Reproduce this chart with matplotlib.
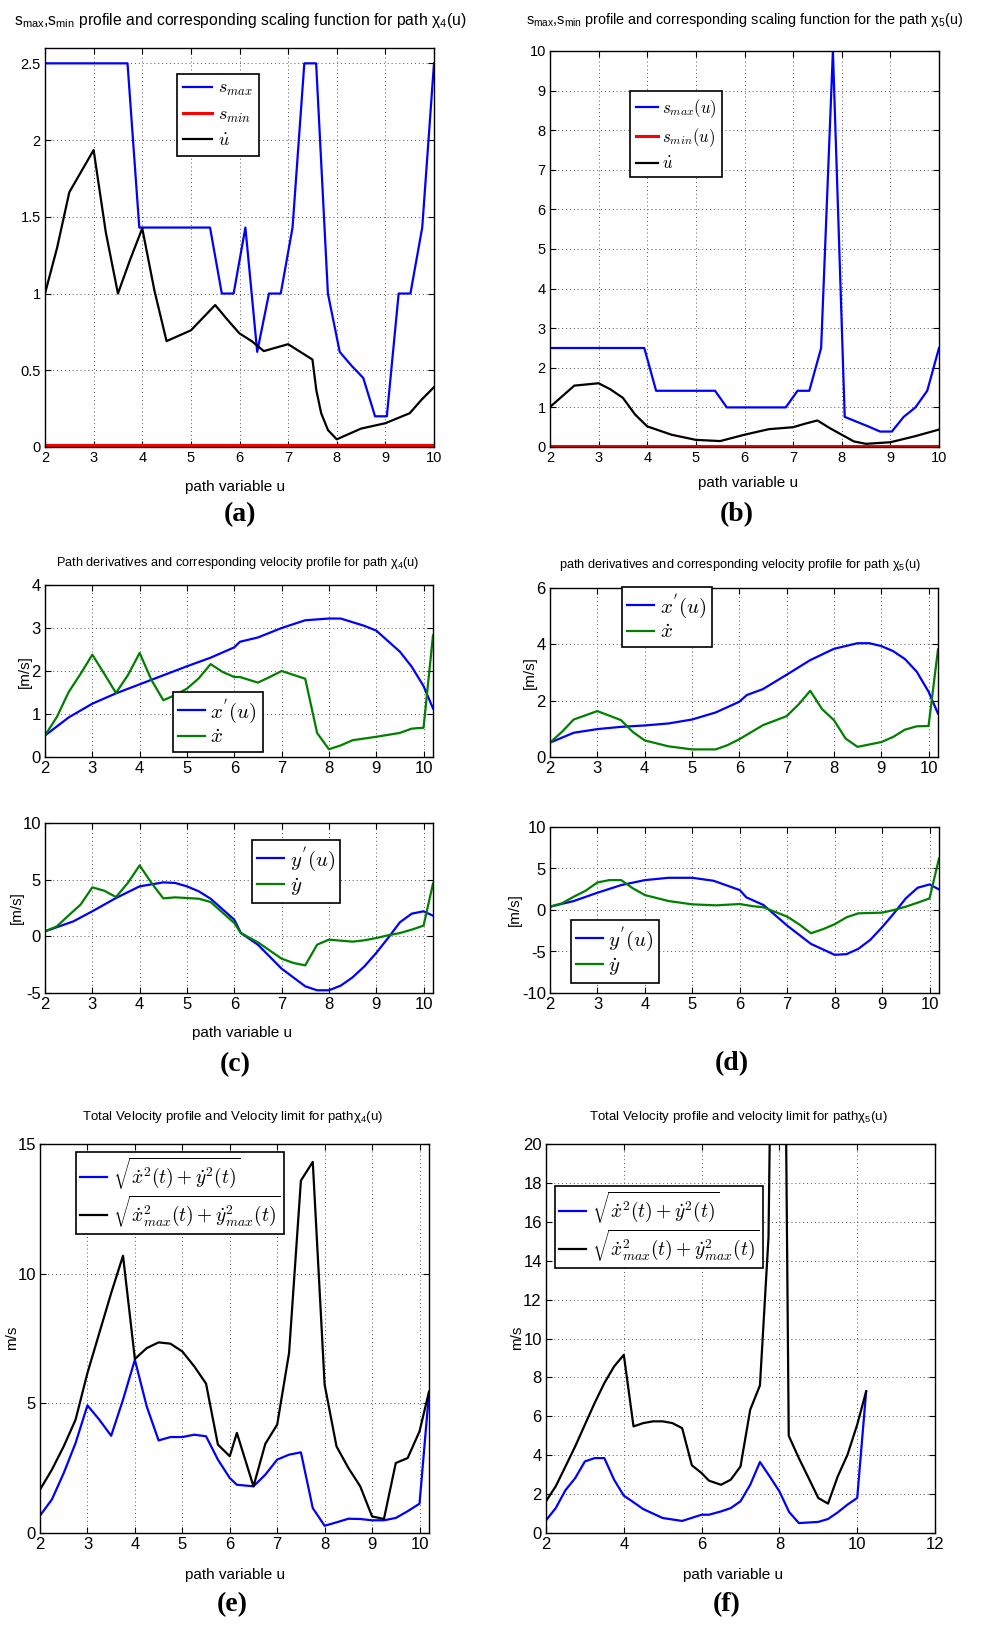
import matplotlib
matplotlib.use('Agg')
import matplotlib.pyplot as plt
from matplotlib.ticker import FuncFormatter

plt.rcParams['font.family'] = ['Liberation Sans', 'DejaVu Sans']
plt.rcParams['mathtext.fontset'] = 'cm'

W, H = 984, 1644

BLUE = '#0000ff'
RED = '#ff0000'
GREEN = '#007f00'

# ---- (a) s_max / s_min / u-dot, path chi_4 ----
a_smax_u = [2.0, 3.697, 3.939, 5.394, 5.636, 5.879, 6.121, 6.364, 6.606, 6.848, 7.091, 7.333,
            7.576, 7.818, 8.061, 8.303, 8.545, 8.788, 9.030, 9.273, 9.515, 9.758, 10.0]
a_smax = [2.5, 2.5, 1.43, 1.43, 1.0, 1.0, 1.43, 0.62, 1.0, 1.0, 1.43, 2.5,
          2.5, 1.0, 0.62, 0.53, 0.45, 0.2, 0.2, 1.0, 1.0, 1.43, 2.5]
a_smin_u = [2.0, 10.0]
a_smin = [0.01, 0.01]
a_udot_u = [2.0, 2.25, 2.5, 3.0, 3.25, 3.5, 3.75, 4.0, 4.25, 4.5, 5.0, 5.5, 5.75, 6.0,
            6.25, 6.5, 7.0, 7.5, 7.58, 7.68, 7.82, 8.0, 8.5, 9.0, 9.5, 9.75, 10.0]
a_udot = [1.0, 1.3, 1.66, 1.935, 1.40, 1.0, 1.22, 1.425, 1.02, 0.69, 0.76, 0.925, 0.83, 0.74,
          0.69, 0.625, 0.67, 0.57, 0.37, 0.22, 0.11, 0.05, 0.12, 0.155, 0.22, 0.31, 0.39]

# ---- (b) s_max / s_min / u-dot, path chi_5 ----
b_smax_u = [2.0, 3.939, 4.182, 5.394, 5.636, 6.848, 7.091, 7.333, 7.576, 7.818, 8.061, 8.303,
            8.545, 8.788, 9.030, 9.273, 9.515, 9.758, 10.0]
b_smax = [2.5, 2.5, 1.42, 1.42, 1.0, 1.0, 1.42, 1.42, 2.5, 10.0, 0.76, 0.64,
          0.52, 0.39, 0.39, 0.76, 1.0, 1.42, 2.5]
b_smin_u = [2.0, 10.0]
b_smin = [0.02, 0.02]
b_udot_u = [2.0, 2.25, 2.5, 3.0, 3.25, 3.5, 3.75, 4.0, 4.5, 5.0, 5.5, 6.0, 6.5, 7.0,
            7.25, 7.5, 7.75, 8.0, 8.25, 8.5, 9.0, 9.5, 10.0]
b_udot = [1.01, 1.28, 1.55, 1.61, 1.45, 1.24, 0.82, 0.52, 0.31, 0.18, 0.15, 0.31, 0.45, 0.5,
          0.59, 0.67, 0.48, 0.31, 0.14, 0.08, 0.12, 0.27, 0.44]

# ---- (c) derivatives, path chi_4 ----
c_xp_u = [2.0, 2.5, 3.0, 3.5, 4.0, 4.5, 5.0, 5.5, 6.0, 6.12, 6.5, 7.0, 7.5, 8.0, 8.25,
          8.75, 9.0, 9.5, 9.75, 10.0, 10.2]
c_xp = [0.5, 0.92, 1.24, 1.48, 1.69, 1.9, 2.11, 2.31, 2.55, 2.68, 2.78, 3.0, 3.18, 3.22, 3.22,
        3.05, 2.94, 2.45, 2.1, 1.65, 1.13]
c_xd_u = [2.0, 2.25, 2.5, 2.75, 3.0, 3.25, 3.5, 3.75, 4.0, 4.25, 4.5, 4.75, 5.0, 5.25, 5.5,
          5.75, 6.0, 6.12, 6.5, 6.75, 7.0, 7.5, 7.75, 8.0, 8.25, 8.5, 9.0, 9.5, 9.75, 10.0, 10.2]
c_xd = [0.5, 0.93, 1.51, 1.93, 2.38, 1.94, 1.49, 1.9, 2.42, 1.79, 1.32, 1.44, 1.59, 1.83, 2.16,
        1.98, 1.86, 1.86, 1.73, 1.86, 2.0, 1.82, 0.56, 0.18, 0.27, 0.39, 0.47, 0.56, 0.66, 0.68, 2.83]
c_yp_u = [2.0, 2.6, 3.0, 3.5, 4.0, 4.5, 4.75, 5.0, 5.25, 5.5, 6.0, 6.14, 6.5, 7.0, 7.5,
          7.75, 8.0, 8.25, 8.5, 8.75, 9.0, 9.25, 9.5, 9.75, 10.0, 10.2]
c_yp = [0.44, 1.32, 2.21, 3.38, 4.41, 4.76, 4.71, 4.41, 3.97, 3.32, 1.47, 0.29, -0.74, -2.85, -4.41,
        -4.76, -4.76, -4.35, -3.62, -2.65, -1.47, -0.15, 1.24, 2.0, 2.21, 1.82]
c_yd_u = [2.0, 2.25, 2.5, 2.75, 3.0, 3.25, 3.5, 3.75, 4.0, 4.25, 4.5, 4.75, 5.25, 5.5, 6.0,
          6.14, 6.5, 7.0, 7.25, 7.5, 7.75, 8.0, 8.5, 8.75, 9.0, 9.25, 9.5, 9.75, 10.0, 10.2]
c_yd = [0.44, 0.88, 1.85, 2.79, 4.32, 4.03, 3.47, 4.71, 6.26, 4.71, 3.35, 3.44, 3.32, 3.03, 1.18,
        0.29, -0.53, -1.97, -2.35, -2.56, -0.74, -0.29, -0.47, -0.35, -0.15, 0.09, 0.29, 0.59, 0.94, 4.65]

# ---- (d) derivatives, path chi_5 ----
d_xp_u = [2.0, 2.5, 3.0, 3.5, 4.0, 4.5, 5.0, 5.5, 6.0, 6.16, 6.5, 7.0, 7.5, 8.0, 8.5,
          8.75, 9.0, 9.25, 9.5, 9.75, 10.0, 10.2]
d_xp = [0.51, 0.86, 0.99, 1.07, 1.12, 1.19, 1.33, 1.58, 1.96, 2.2, 2.41, 2.92, 3.44, 3.84, 4.04,
        4.04, 3.94, 3.76, 3.48, 3.03, 2.32, 1.54]
d_xd_u = [2.0, 2.25, 2.5, 3.0, 3.5, 3.75, 4.0, 4.5, 5.0, 5.5, 5.75, 6.0, 6.5, 7.0, 7.25,
          7.5, 7.75, 8.0, 8.25, 8.5, 9.0, 9.25, 9.5, 9.75, 10.0, 10.2]
d_xd = [0.51, 0.89, 1.33, 1.63, 1.31, 0.89, 0.59, 0.38, 0.27, 0.27, 0.42, 0.63, 1.13, 1.45, 1.86,
        2.35, 1.7, 1.31, 0.65, 0.36, 0.53, 0.71, 0.97, 1.09, 1.1, 3.82]
d_yp_u = [2.0, 2.5, 3.0, 3.5, 4.0, 4.5, 5.0, 5.45, 6.0, 6.14, 6.5, 7.0, 7.5, 8.0, 8.25,
          8.5, 8.75, 9.0, 9.25, 9.5, 9.75, 10.0, 10.2]
d_yp = [0.4, 1.08, 2.08, 3.0, 3.6, 3.88, 3.88, 3.52, 2.4, 1.52, 0.6, -1.88, -4.08, -5.4, -5.32,
        -4.68, -3.6, -2.08, -0.4, 1.4, 2.68, 3.08, 2.48]
d_yd_u = [2.0, 2.25, 2.5, 2.75, 3.0, 3.25, 3.5, 3.75, 4.0, 4.5, 5.0, 5.5, 6.0, 6.25, 6.5,
          7.0, 7.25, 7.5, 7.75, 8.0, 8.25, 8.5, 9.0, 9.25, 9.5, 9.75, 10.0, 10.2]
d_yd = [0.4, 0.8, 1.6, 2.32, 3.32, 3.6, 3.6, 2.6, 1.8, 1.08, 0.68, 0.56, 0.72, 0.48, 0.32,
        -0.8, -1.72, -2.8, -2.32, -1.72, -0.88, -0.4, -0.32, 0.0, 0.4, 0.88, 1.4, 6.2]

# ---- (e) total velocity, path chi_4 ----
e_u = [2.0, 2.25, 2.5, 2.75, 3.0, 3.25, 3.5, 3.75, 4.0, 4.25, 4.5, 4.75, 5.0, 5.25, 5.5, 5.75,
       6.0, 6.15, 6.5, 6.75, 7.0, 7.25, 7.5, 7.75, 8.0, 8.25, 8.5, 8.75, 9.0, 9.25, 9.5, 9.75,
       10.0, 10.2]
e_v = [0.67, 1.29, 2.31, 3.47, 4.92, 4.37, 3.75, 5.14, 6.68, 4.88, 3.57, 3.7, 3.7, 3.79, 3.73, 2.83,
       2.12, 1.86, 1.8, 2.25, 2.83, 3.02, 3.11, 0.96, 0.28, 0.41, 0.55, 0.54, 0.49, 0.49, 0.58, 0.84,
       1.13, 5.4]
e_vmax = [1.67, 2.44, 3.34, 4.37, 6.17, 7.71, 9.25, 10.69, 6.71, 7.13, 7.35, 7.3, 7.0, 6.43, 5.76, 3.41,
          2.96, 3.86, 1.8, 3.44, 4.18, 6.94, 13.59, 14.31, 5.72, 3.34, 2.51, 1.8, 0.64, 0.54, 2.7, 2.89,
          3.92, 5.45]

# ---- (f) total velocity, path chi_5 ----
f_v_u = [2.0, 2.25, 2.5, 2.75, 3.0, 3.25, 3.5, 3.75, 4.0, 4.25, 4.5, 5.0, 5.5, 6.0, 6.19,
         6.5, 6.75, 7.0, 7.25, 7.5, 7.75, 8.0, 8.25, 8.5, 9.0, 9.25, 9.5, 9.75, 10.0, 10.23]
f_v = [0.65, 1.28, 2.2, 2.82, 3.68, 3.85, 3.85, 2.74, 1.92, 1.58, 1.23, 0.77, 0.62, 0.94, 0.94,
       1.11, 1.28, 1.63, 2.48, 3.65, 2.91, 2.14, 1.08, 0.51, 0.57, 0.72, 1.06, 1.46, 1.8, 7.28]
f_vmax_u = [2.0, 2.25, 2.5, 2.75, 3.0, 3.25, 3.5, 3.75, 4.0, 4.25, 4.5, 4.75, 5.0, 5.25, 5.5, 5.75,
            6.0, 6.19, 6.5, 6.75, 7.0, 7.25, 7.5, 7.72, 8.0, 8.24, 8.5, 8.75, 9.0, 9.25, 9.5, 9.75,
            10.0, 10.23]
f_vmax = [1.63, 2.4, 3.42, 4.45, 5.57, 6.68, 7.71, 8.56, 9.16, 5.48, 5.65, 5.74, 5.74, 5.65, 5.39, 3.48,
          3.08, 2.69, 2.48, 2.74, 3.42, 6.34, 7.59, 15.2, 60.0, 5.0, 3.85, 2.83, 1.8, 1.51, 2.91, 4.02,
          5.57, 7.28]

fig = plt.figure(figsize=(W / 100, H / 100), dpi=100)


def add_ax(x0, y0, x1, y1):
    # pixel box (left, top, right, bottom) -> figure fraction
    return fig.add_axes([x0 / W, 1 - y1 / H, (x1 - x0) / W, (y1 - y0) / H])


def style(ax, xlim, ylim, xticks, yticks, fs=10.5):
    ax.set_xlim(*xlim)
    ax.set_ylim(*ylim)
    ax.set_xticks(xticks)
    ax.set_yticks(yticks)
    fmt = FuncFormatter(lambda v, p: '%g' % v)
    ax.xaxis.set_major_formatter(fmt)
    ax.yaxis.set_major_formatter(fmt)
    ax.grid(True, linestyle=(0, (1, 3)), color='#555555', linewidth=0.7)
    ax.tick_params(direction='in', top=True, right=True, labelsize=fs, length=4, width=0.8, pad=3)
    for s in ax.spines.values():
        s.set_linewidth(1.0)


def ftext(x, y, s, **kw):
    fig.text(x / W, 1 - y / H, s, ha='center', va='center', **kw)


def legend(ax, x, y, fs, **kw):
    leg = ax.legend(loc='upper left', bbox_to_anchor=(x / W, 1 - y / H), bbox_transform=fig.transFigure,
                    fancybox=False, edgecolor='black', framealpha=1, fontsize=fs, borderaxespad=0, **kw)
    leg.get_frame().set_linewidth(1.2)
    return leg


LW = 1.6
sub = r'$\mathregular{_{%s}}$'
SERIF = dict(fontsize=20, fontweight='bold', family='Liberation Serif')

# (a)
ax = add_ax(45, 48, 434, 447)
ax.plot(a_smax_u, a_smax, color=BLUE, lw=LW, label=r'$s_{max}$')
ax.plot(a_smin_u, a_smin, color=RED, lw=LW + 0.6, label=r'$s_{min}$')
ax.plot(a_udot_u, a_udot, color='black', lw=LW, label=r'$\dot{u}$')
style(ax, (2, 10), (0, 2.6), range(2, 11), [0, 0.5, 1, 1.5, 2, 2.5])
legend(ax, 177, 74, 13, handlelength=1.6, labelspacing=0.45, borderpad=0.35, handletextpad=0.3)
ftext(240, 20, 's' + sub % 'max' + ',s' + sub % 'min' +
      ' profile and corresponding scaling function for path \u03c7' + sub % '4' + '(u)', fontsize=11.3)
ftext(235, 487, 'path variable u', fontsize=11)
ftext(240, 515, '(a)', **SERIF)

# (b)
ax = add_ax(550, 51, 939, 447)
ax.plot(b_smax_u, b_smax, color=BLUE, lw=LW, label=r'$s_{max}(u)$')
ax.plot(b_smin_u, b_smin, color=RED, lw=LW + 0.6, label=r'$s_{min}(u)$')
ax.plot(b_udot_u, b_udot, color='black', lw=LW, label=r'$\dot{u}$')
style(ax, (2, 10), (0, 10), range(2, 11), range(0, 11))
legend(ax, 630, 91, 12, handlelength=1.3, labelspacing=0.4, borderpad=0.35, handletextpad=0.25)
ftext(745, 20, 's' + sub % 'max' + ',s' + sub % 'min' +
      ' profile and corresponding scaling function for the path \u03c7' + sub % '5' + '(u)', fontsize=10.4)
ftext(748, 483, 'path variable u', fontsize=11)
ftext(737, 515, '(b)', **SERIF)

LEG2 = dict(handlelength=1.3, labelspacing=0.15, borderpad=0.25, handletextpad=0.25)

# (c) top
ax = add_ax(45, 585, 433, 757)
ax.plot(c_xp_u, c_xp, color=BLUE, lw=LW, label=r"$x^{'}(u)$")
ax.plot(c_xd_u, c_xd, color=GREEN, lw=LW, label=r'$\dot{x}$')
style(ax, (2, 10.2), (0, 4), range(2, 11), range(0, 5), fs=12)
legend(ax, 173, 692, 15, **LEG2)
ftext(238, 563, 'Path derivatives and corresponding velocity profile for path \u03c7' + sub % '4' + '(u)',
      fontsize=9.2)
ftext(25, 672, '[m/s]', fontsize=11, rotation=90)

# (c) bottom
ax = add_ax(45, 823, 433, 993)
ax.plot(c_yp_u, c_yp, color=BLUE, lw=LW, label=r"$y^{'}(u)$")
ax.plot(c_yd_u, c_yd, color=GREEN, lw=LW, label=r'$\dot{y}$')
style(ax, (2, 10.2), (-5, 10), range(2, 11), [-5, 0, 5, 10], fs=12)
legend(ax, 252, 840, 15, **LEG2)
ftext(17, 908, '[m/s]', fontsize=11, rotation=90)
ftext(242, 1033, 'path variable u', fontsize=11)
ftext(235, 1065, '(c)', **SERIF)

# (d) top
ax = add_ax(550, 588, 938, 757)
ax.plot(d_xp_u, d_xp, color=BLUE, lw=LW, label=r"$x^{'}(u)$")
ax.plot(d_xd_u, d_xd, color=GREEN, lw=LW, label=r'$\dot{x}$')
style(ax, (2, 10.2), (0, 6), range(2, 11), [0, 2, 4, 6], fs=12)
legend(ax, 622, 587, 15, **LEG2)
ftext(740, 565, 'path derivatives and corresponding velocity profile for path \u03c7' + sub % '5' + '(u)',
      fontsize=9.2)
ftext(530, 673, '[m/s]', fontsize=11, rotation=90)

# (d) bottom
ax = add_ax(550, 827, 939, 993)
ax.plot(d_yp_u, d_yp, color=BLUE, lw=LW, label=r"$y^{'}(u)$")
ax.plot(d_yd_u, d_yd, color=GREEN, lw=LW, label=r'$\dot{y}$')
style(ax, (2, 10.2), (-10, 10), range(2, 11), [-10, -5, 0, 5, 10], fs=12)
legend(ax, 571, 920, 15, **LEG2)
ftext(515, 910, '[m/s]', fontsize=11, rotation=90)
ftext(732, 1064, '(d)', **SERIF)

LEG3 = dict(handlelength=1.4, labelspacing=0.1, borderpad=0.2, handletextpad=0.3)

# (e)
ax = add_ax(40, 1144, 429, 1533)
ax.plot(e_u, e_v, color=BLUE, lw=LW, label=r'$\sqrt{\dot{x}^2(t)+\dot{y}^2(t)}$')
ax.plot(e_u, e_vmax, color='black', lw=LW, label=r'$\sqrt{\dot{x}^2_{max}(t)+\dot{y}^2_{max}(t)}$')
style(ax, (2, 10.2), (0, 15), range(2, 11), [0, 5, 10, 15], fs=12)
legend(ax, 76, 1152, 14, **LEG3)
ftext(232, 1117, 'Total Velocity profile and Velocity limit for path\u03c7' + sub % '4' + '(u)',
      fontsize=9.5)
ftext(12, 1338, 'm/s', fontsize=11, rotation=90)
ftext(235, 1575, 'path variable u', fontsize=11)
ftext(232, 1605, '(e)', **SERIF)

# (f)
ax = add_ax(546, 1144, 935, 1533)
ax.plot(f_v_u, f_v, color=BLUE, lw=LW, label=r'$\sqrt{\dot{x}^2(t)+\dot{y}^2(t)}$')
ax.plot(f_vmax_u, f_vmax, color='black', lw=LW, label=r'$\sqrt{\dot{x}^2_{max}(t)+\dot{y}^2_{max}(t)}$')
style(ax, (2, 12), (0, 20), range(2, 13, 2), range(0, 21, 2), fs=12)
legend(ax, 555, 1186, 14, **LEG3)
ftext(738, 1117, 'Total Velocity profile and velocity limit for path\u03c7' + sub % '5' + '(u)',
      fontsize=9.5)
ftext(517, 1338, 'm/s', fontsize=11, rotation=90)
ftext(733, 1575, 'path variable u', fontsize=11)
ftext(727, 1605, '(f)', **SERIF)

fig.savefig('out.png', dpi=100)
